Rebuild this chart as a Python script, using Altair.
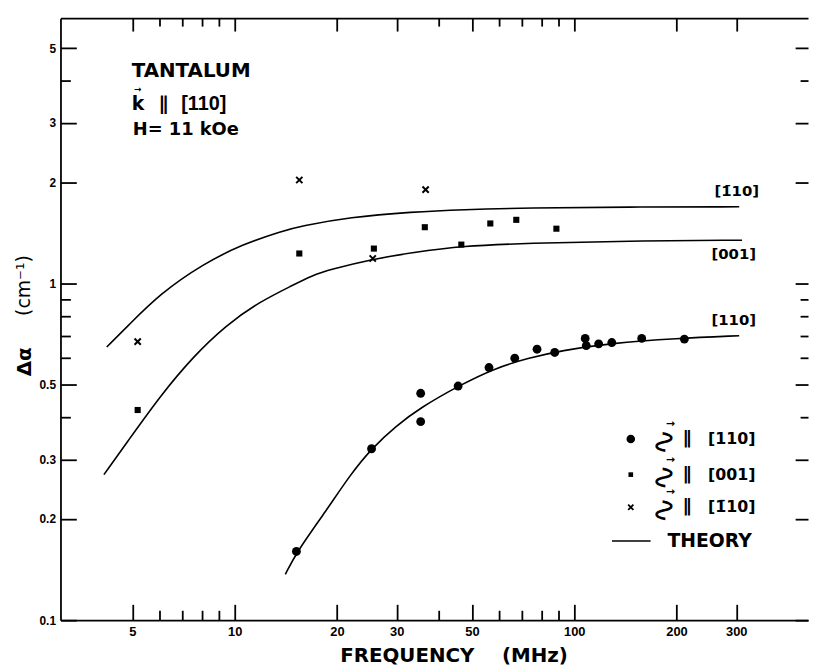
import json
import altair as alt
import pandas as pd

# ---------------- data ----------------
# measured points, u || [110]  (filled circles)
f_110 = [15.2, 25.3, 35.3, 35.3, 45.5, 56.1, 66.8, 77.7, 87.6, 107.7, 108.5, 118, 129, 158, 211]
a_110 = [0.160, 0.323, 0.472, 0.389, 0.496, 0.563, 0.600, 0.638, 0.624, 0.687, 0.654, 0.662, 0.668, 0.687, 0.684]
# measured points, u || [001]  (squares)
f_001 = [5.18, 15.5, 25.7, 36.3, 46.5, 56.6, 67.5, 88.6]
a_001 = [0.421, 1.228, 1.27, 1.47, 1.305, 1.508, 1.546, 1.455]
# measured points, u || [-110]  (crosses)
f_m110 = [5.18, 15.5, 25.5, 36.5]
a_m110 = [0.672, 2.03, 1.187, 1.90]

# theory curves
th_m110_f = [4.2, 4.82, 6.03, 8.07, 10.55, 13.8, 15.6, 21.8, 33.4, 46.8, 73.1, 143, 306]
th_m110_a = [0.648, 0.744, 0.933, 1.143, 1.308, 1.432, 1.48, 1.574, 1.632, 1.658, 1.677, 1.688, 1.69]
th_001_f = [4.12, 4.82, 6.03, 7.55, 9.43, 11.8, 14.76, 16.9, 19.1, 25.5, 33.4, 46.8, 73.1, 143, 312]
th_001_a = [0.2706, 0.3376, 0.463, 0.607, 0.752, 0.881, 0.986, 1.056, 1.10, 1.182, 1.236, 1.294, 1.317, 1.338, 1.345]
th_110_f = [14.1, 15.2, 18.67, 21.84, 25.25, 29.9, 35.3, 45.5, 58.5, 73.1, 91.5, 128, 200, 306]
th_110_a = [0.1368, 0.159, 0.2126, 0.2694, 0.323, 0.378, 0.428, 0.496, 0.561, 0.600, 0.632, 0.665, 0.687, 0.700]

# axis ticks
x_major = [5, 10, 20, 30, 50, 100, 200, 300]
x_minor = [6, 7, 8, 9, 40, 60, 70, 80, 90]
y_major = [0.1, 0.2, 0.3, 0.5, 1, 2, 3, 5]
y_minor = [0.4, 0.6, 0.7, 0.8, 0.9, 4]

# text
curve_labels = ["[1\u030410]", "[001]", "[110]"]
legend_dirs = ["[110]", "[001]", "[1\u030410]"]

# ---------------- build tables ----------------
df_110 = pd.DataFrame({"f": f_110, "a": a_110})
df_001 = pd.DataFrame({"f": f_001, "a": a_001})
df_m110 = pd.DataFrame({"f": f_m110, "a": a_m110})
df_th = pd.concat([
    pd.DataFrame({"f": th_m110_f, "a": th_m110_a, "curve": "m110"}),
    pd.DataFrame({"f": th_001_f, "a": th_001_a, "curve": "001"}),
    pd.DataFrame({"f": th_110_f, "a": th_110_a, "curve": "110"}),
], ignore_index=True)
one = pd.DataFrame({"k": [0]})

W, H = 755, 608
XS = alt.Scale(type="log", domain=[3.069, 488], nice=False)
YS = alt.Scale(type="log", domain=[0.1, 6.14], nice=False)
x_all = sorted(x_major + x_minor)
y_all = sorted(y_major + y_minor)

FONT = "DejaVu Sans"
NFONT = "Liberation Sans"
XSHAPE = "M-1,-1L1,1M-1,1L1,-1"


def tsize(major, big, small):
    return {"condition": {"test": "indexof(%s, datum.value) >= 0" % json.dumps(major), "value": big},
            "value": small}


common = dict(grid=False, tickColor="black", domainColor="black", tickWidth=1.8, domainWidth=1.8)

# axis layer 1: labels, left and bottom lines, titles
ax_labels = alt.Chart(df_110).mark_point(opacity=0).encode(
    x=alt.X("f:Q", scale=XS, axis=alt.Axis(
        orient="bottom", values=x_major, format="~g", ticks=False, domain=True,
        labelFont=NFONT, labelFontSize=13, labelFontWeight="bold", labelColor="black",
        labelPadding=5, labelFlush=False, labelOverlap=False,
        title="FREQUENCY\u00a0\u00a0\u00a0\u00a0(MHz)", titleFont=FONT, titleFontSize=20,
        titleFontWeight="bold", titleColor="black", titleX=397, titleY=36,
        titleAlign="center", titleBaseline="middle", **common)),
    y=alt.Y("a:Q", scale=YS, axis=alt.Axis(
        orient="left", values=y_major, format="~g", ticks=False, domain=True,
        labelFont=NFONT, labelFontSize=12, labelFontWeight="bold", labelColor="black",
        labelPadding=5, labelFlush=False, labelOverlap=False, title=None, **common)),
)

# axis layer 2: inward ticks on bottom and left
ax_in1 = alt.Chart(df_110).mark_point(opacity=0).encode(
    x=alt.X("f:Q", scale=XS, axis=alt.Axis(
        orient="top", offset=-H, values=x_all, labels=False, domain=False,
        tickSize=tsize(x_major, 16, 10), title=None, **common)),
    y=alt.Y("a:Q", scale=YS, axis=alt.Axis(
        orient="right", offset=-W, values=y_all, labels=False, domain=False,
        tickSize=tsize(y_major, 16, 10), title=None, **common)),
)

# axis layer 3: inward ticks on top (with frame line) and right
ax_in2 = alt.Chart(df_110).mark_point(opacity=0).encode(
    x=alt.X("f:Q", scale=XS, axis=alt.Axis(
        orient="bottom", offset=-H, values=x_all, labels=False, domain=True,
        tickSize=tsize(x_major, 13, 8), title=None, **common)),
    y=alt.Y("a:Q", scale=YS, axis=alt.Axis(
        orient="left", offset=-W, values=y_all, labels=False, domain=False,
        tickSize=tsize(y_major, 13, 8), title=None, **common)),
)

xenc = alt.X("f:Q", scale=XS, axis=None)
yenc = alt.Y("a:Q", scale=YS, axis=None)

theory = alt.Chart(df_th).mark_line(color="black", strokeWidth=1.6, interpolate="basis").encode(
    x=xenc, y=yenc, detail="curve:N")

pts_110 = alt.Chart(df_110).mark_point(shape="circle", filled=True, color="black", opacity=1, size=80).encode(
    x=xenc, y=yenc)
pts_001 = alt.Chart(df_001).mark_point(shape="square", filled=True, color="black", opacity=1, size=38).encode(
    x=xenc, y=yenc)
pts_m110 = alt.Chart(df_m110).mark_point(shape=XSHAPE, filled=False, color="black", opacity=1, size=40,
                                         strokeWidth=2).encode(x=xenc, y=yenc)


def txt(s, x, y, size, align="left", weight="bold", angle=0, font=FONT):
    return alt.Chart(one).mark_text(
        text=s, align=align, baseline="middle", font=font, fontSize=size,
        fontWeight=weight, color="black", angle=angle
    ).encode(x=alt.value(x), y=alt.value(y))


annots = [
    txt("TANTALUM", 72, 53, 20),
    txt("k", 72, 87, 19),
    txt("\u2192", 78, 72, 9, align="center", weight="bold"),
    txt("\u2225", 104, 87, 19, align="center", weight="bold"),
    txt("[110]", 122, 87, 20, font=NFONT),
    txt("H=\u00a011\u00a0kOe", 73, 113, 18),
    txt(curve_labels[0], 683, 175, 15, align="center"),
    txt(curve_labels[1], 680, 238, 15, align="center"),
    txt(curve_labels[2], 680, 305, 15, align="center"),
    # y title
    txt("\u0394\u03b1", -36, 347, 20, align="center", angle=270),
    txt("(cm\u207b\u00b9)", -37, 270, 19, align="center", weight="normal", angle=270),
]

# legend
leg_y = [425, 461, 494, 528]
leg = [
    alt.Chart(one).mark_point(shape="circle", filled=True, color="black", opacity=1, size=75).encode(
        x=alt.value(576), y=alt.value(leg_y[0])),
    alt.Chart(one).mark_point(shape="square", filled=True, color="black", opacity=1, size=22).encode(
        x=alt.value(576), y=alt.value(leg_y[1])),
    alt.Chart(one).mark_point(shape=XSHAPE, filled=False, color="black", opacity=1, size=28,
                              strokeWidth=1.8).encode(x=alt.value(576), y=alt.value(leg_y[2])),
    alt.Chart(one).mark_rule(color="black", strokeWidth=1.6).encode(
        x=alt.value(557), x2=alt.value(596), y=alt.value(leg_y[3])),
    txt("THEORY", 613, leg_y[3], 19),
]
for i in range(3):
    leg.append(txt("\u2225", 633, leg_y[i], 18, align="center", weight="bold"))
    leg.append(txt(legend_dirs[i], 654, leg_y[i], 16))
    leg.append(txt("\u223f", 609, leg_y[i] + 3, 32, align="center", weight="normal", angle=90))
    leg.append(txt("\u2192", 616, leg_y[i] - 15, 11, align="center", weight="bold"))

chart = alt.layer(
    ax_labels, ax_in1, ax_in2, theory, pts_110, pts_001, pts_m110, *annots, *leg
).resolve_axis(x="independent", y="independent").properties(
    width=W, height=H,
    autosize=alt.AutoSizeParams(type="none"),
    padding={"left": 53, "top": 7, "right": 1, "bottom": 44},
).configure_view(stroke=None).configure_axis(grid=False)

chart.save("out.html", embed_options={"renderer": "svg", "actions": False})
